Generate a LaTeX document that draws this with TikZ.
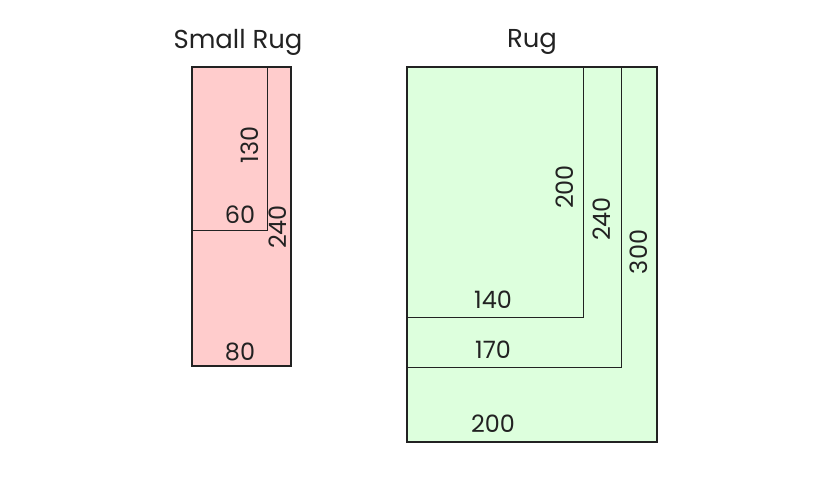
\documentclass[tikz,border=0pt]{standalone}
\usepackage{fontspec}
\setmainfont{Poppins}
\usepackage{tikz}
\definecolor{rugpink}{RGB}{255, 204, 204}
\definecolor{ruggreen}{RGB}{221, 255, 221}
\definecolor{linegray}{RGB}{34, 34, 34}

\tikzset{
    outerrug/.style={draw=linegray, line width=1.8bp},
    innerrug/.style={draw=linegray, line width=0.9bp},
    sizelabel/.style={font=\fontsize{24}{24}\selectfont, text=linegray, inner sep=0pt},
    titlelabel/.style={font=\fontsize{26}{26}\selectfont, text=linegray, inner sep=0pt}
}

\begin{document}
\begin{tikzpicture}[x=1bp, y=-1bp]
    \useasboundingbox (0,0) rectangle (816,496);

    % small rug
    \fill[rugpink] (192,67) rectangle (291,366);
    \draw[innerrug] (192,230) -- (267,230) -- (267,67);
    \draw[outerrug] (192,67) rectangle (291,366);
    \node[titlelabel] (smalltitle) at (238,42) {Small Rug};
    \node[sizelabel, rotate=90] (smalllen) at (250,145) {130};
    \node[sizelabel] (smallwid) at (240,215) {60};
    \node[sizelabel, rotate=90] (smalltotal) at (278,227) {240};
    \node[sizelabel] (smallbase) at (240,352) {80};

    % big rug
    \fill[ruggreen] (407,67) rectangle (657,442);
    \draw[innerrug] (407,317) -- (583,317) -- (583,67);
    \draw[innerrug] (407,367) -- (621,367) -- (621,67);
    \draw[outerrug] (407,67) rectangle (657,442);
    \node[titlelabel] (rugtitle) at (532,42) {Rug};
    \node[sizelabel, rotate=90] (ruglenA) at (565,187) {200};
    \node[sizelabel, rotate=90] (ruglenB) at (602,219) {240};
    \node[sizelabel, rotate=90] (ruglenC) at (639,252) {300};
    \node[sizelabel] (rugwidA) at (493,300) {140};
    \node[sizelabel] (rugwidB) at (493,350) {170};
    \node[sizelabel] (rugwidC) at (493,424) {200};
\end{tikzpicture}
\end{document}
